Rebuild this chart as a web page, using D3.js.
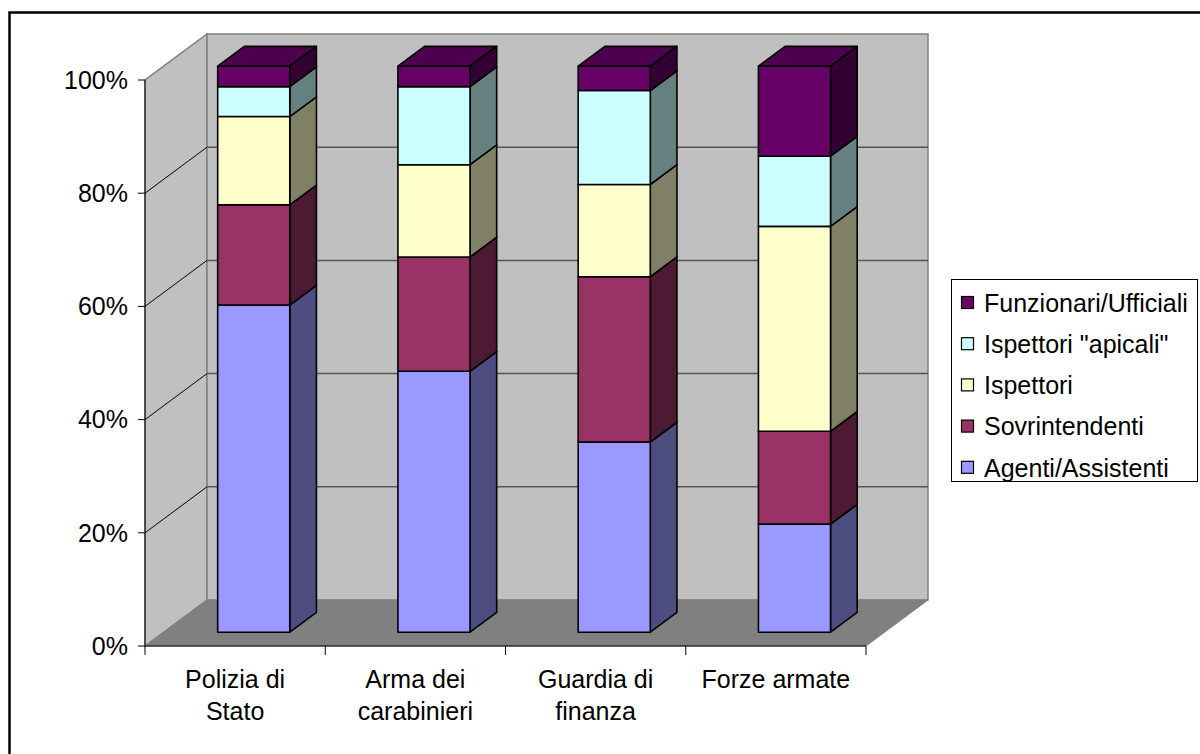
<!DOCTYPE html>
<html>
<head>
<meta charset="utf-8">
<script src="https://cdn.jsdelivr.net/npm/d3@7"></script>
<style>
  body { margin: 0; background: #fff; }
  text { font-family: "Liberation Sans", Arial, sans-serif; fill: #000; }
</style>
</head>
<body>
<div id="chart"></div>
<script>
// categories and series (percent of each force)
var categories = ["Polizia di Stato", "Arma dei carabinieri", "Guardia di finanza", "Forze armate"];
var categoryLines = [["Polizia di", "Stato"], ["Arma dei", "carabinieri"], ["Guardia di", "finanza"], ["Forze armate"]];
var seriesNames = ["Agenti/Assistenti", "Sovrintendenti", "Ispettori", "Ispettori \"apicali\"", "Funzionari/Ufficiali"];
var seriesColors = ["#9999FF", "#993366", "#FFFFCC", "#CCFFFF", "#660066"];
var agenti = [57.8, 46.1, 33.6, 19.1];
var sovrintendenti = [17.7, 20.2, 29.2, 16.4];
var ispettori = [15.6, 16.3, 16.3, 36.2];
var apicali = [5.3, 13.8, 16.6, 12.4];
var funzionari = [3.6, 3.6, 4.3, 15.9];
var yTicks = [0, 20, 40, 60, 80, 100];

var seriesValues = [agenti, sovrintendenti, ispettori, apicali, funzionari];

var svgWidth = 1200, svgHeight = 754;
var svg = d3.select("#chart").append("svg")
  .attr("width", svgWidth)
  .attr("height", svgHeight);

// outer frame
svg.append("rect")
  .attr("x", 9.5).attr("y", 12.5)
  .attr("width", 1220).attr("height", 780)
  .attr("fill", "none").attr("stroke", "#000").attr("stroke-width", 2.5);

// front plane geometry + depth offset
var x0 = 145, x1 = 866, yBase = 646;
var depthX = 62, depthY = -46;

var xScale = d3.scaleBand()
  .domain(categories)
  .range([x0, x1])
  .paddingInner(0.6)
  .paddingOuter(0.3);

var yScale = d3.scaleLinear()
  .domain([0, 100])
  .range([yBase, 80]);

function pt(x, v, d) {
  return [x + depthX * d, yScale(v) + depthY * d];
}
function poly(points) {
  return points.map(p => p.join(",")).join(" ");
}

// left wall
svg.append("polygon")
  .attr("points", poly([pt(x0, 0, 0), pt(x0, 100, 0), pt(x0, 100, 1), pt(x0, 0, 1)]))
  .attr("fill", "#C0C0C0").attr("stroke", "#808080").attr("stroke-width", 1.5);

// back wall
svg.append("polygon")
  .attr("points", poly([pt(x0, 0, 1), pt(x0, 100, 1), pt(x1, 100, 1), pt(x1, 0, 1)]))
  .attr("fill", "#C0C0C0").attr("stroke", "#808080").attr("stroke-width", 1.5);

// floor
svg.append("polygon")
  .attr("points", poly([pt(x0, 0, 0), pt(x0, 0, 1), pt(x1, 0, 1), pt(x1, 0, 0)]))
  .attr("fill", "#808080").attr("stroke", "#808080").attr("stroke-width", 1);

// gridlines
yTicks.filter(t => t > 0 && t < 100).forEach(function(t) {
  var a = pt(x0, t, 0), b = pt(x0, t, 1), c = pt(x1, t, 1);
  svg.append("line")
    .attr("x1", a[0]).attr("y1", a[1]).attr("x2", b[0]).attr("y2", b[1])
    .attr("stroke", "#000").attr("stroke-width", 1);
  svg.append("line")
    .attr("x1", b[0]).attr("y1", b[1]).attr("x2", c[0]).attr("y2", c[1])
    .attr("stroke", "#555").attr("stroke-width", 1.5);
});

// bars
var dFront = 0.3, dBack = 0.73;
categories.forEach(function(cat, i) {
  var bx0 = xScale(cat), bx1 = bx0 + xScale.bandwidth();
  var cum = 0;
  seriesValues.forEach(function(vals, s) {
    var lo = cum, hi = cum + vals[i];
    cum = hi;
    var col = d3.rgb(seriesColors[s]);
    var side = d3.rgb(col.r * 0.5, col.g * 0.5, col.b * 0.5);
    var top = d3.rgb(col.r * 0.75, col.g * 0.75, col.b * 0.75);
    var g = svg.append("g").attr("stroke", "#000").attr("stroke-width", 1.6).attr("stroke-linejoin", "round");
    g.append("polygon")
      .attr("points", poly([pt(bx0, hi, dFront), pt(bx0, hi, dBack), pt(bx1, hi, dBack), pt(bx1, hi, dFront)]))
      .attr("fill", top);
    g.append("polygon")
      .attr("points", poly([pt(bx1, lo, dFront), pt(bx1, hi, dFront), pt(bx1, hi, dBack), pt(bx1, lo, dBack)]))
      .attr("fill", side);
    g.append("polygon")
      .attr("points", poly([pt(bx0, lo, dFront), pt(bx0, hi, dFront), pt(bx1, hi, dFront), pt(bx1, lo, dFront)]))
      .attr("fill", col);
  });
});

// y axis
var yAxis = svg.append("g");
yAxis.append("line")
  .attr("x1", x0).attr("x2", x0).attr("y1", yScale(0)).attr("y2", yScale(100))
  .attr("stroke", "#000").attr("stroke-width", 1);
yTicks.forEach(function(t) {
  yAxis.append("line")
    .attr("x1", x0 - 7).attr("x2", x0).attr("y1", yScale(t)).attr("y2", yScale(t))
    .attr("stroke", "#000");
  yAxis.append("text")
    .attr("x", 128).attr("y", yScale(t)).attr("dy", "0.35em")
    .attr("text-anchor", "end").attr("font-size", 25)
    .text(t + "%");
});

// x axis
var xAxis = svg.append("g");
xAxis.append("line")
  .attr("x1", x0).attr("x2", x1).attr("y1", yBase).attr("y2", yBase)
  .attr("stroke", "#000");
var step = xScale.step();
d3.range(categories.length + 1).forEach(function(k) {
  var xx = x0 + k * step;
  xAxis.append("line")
    .attr("x1", xx).attr("x2", xx).attr("y1", yBase).attr("y2", yBase + 9)
    .attr("stroke", "#000");
});
categories.forEach(function(cat, i) {
  var cx = xScale(cat) + xScale.bandwidth() / 2;
  var t = xAxis.append("text")
    .attr("x", cx).attr("y", 688)
    .attr("text-anchor", "middle").attr("font-size", 25);
  categoryLines[i].forEach(function(line, j) {
    t.append("tspan").attr("x", cx).attr("dy", j === 0 ? 0 : 32).text(line);
  });
});

// legend
var legend = svg.append("g");
legend.append("rect")
  .attr("x", 951.5).attr("y", 279.5).attr("width", 246).attr("height", 202)
  .attr("fill", "#fff").attr("stroke", "#000").attr("stroke-width", 1);
var legendOrder = d3.range(seriesNames.length).reverse();
legendOrder.forEach(function(s, k) {
  var ly = 303 + k * 41.2;
  legend.append("rect")
    .attr("x", 961.5).attr("y", ly - 6.5).attr("width", 12).attr("height", 12)
    .attr("fill", seriesColors[s]).attr("stroke", "#000").attr("stroke-width", 1.2);
  legend.append("text")
    .attr("x", 984).attr("y", ly).attr("dy", "0.35em")
    .attr("font-size", 25)
    .text(seriesNames[s]);
});
</script>
</body>
</html>
